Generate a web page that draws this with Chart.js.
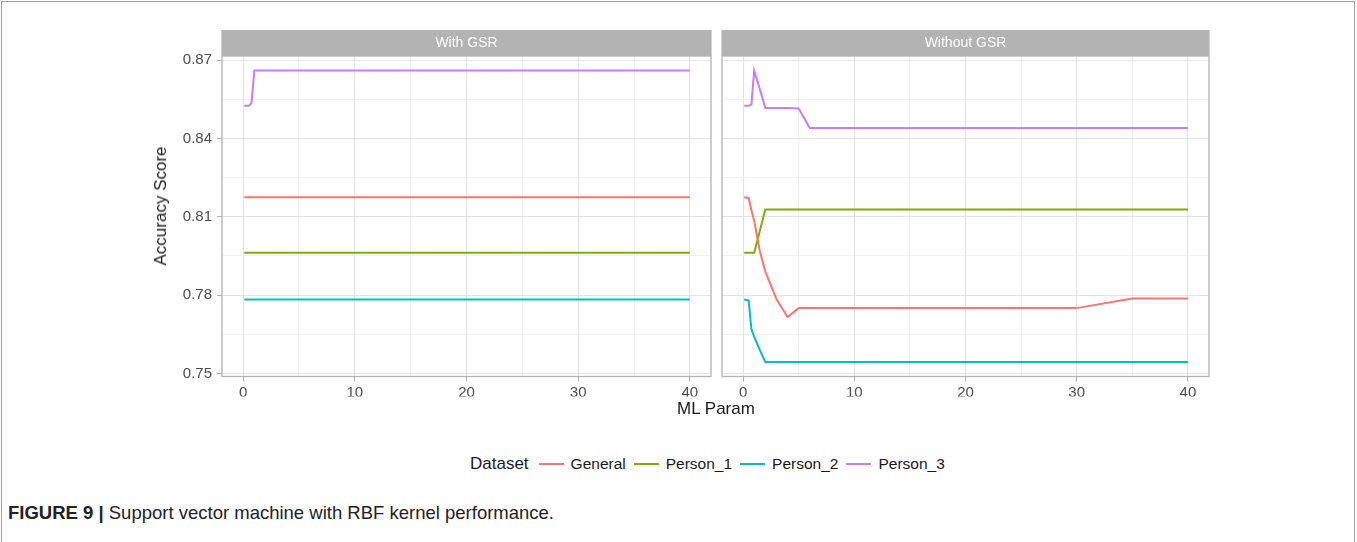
<!DOCTYPE html>
<html>
<head>
<meta charset="utf-8">
<script src="https://cdn.jsdelivr.net/npm/chart.js@4"></script>
<style>
  body { margin: 0; background: #fff; font-family: "Liberation Sans", Arial, sans-serif; }
  #page { position: relative; width: 1357px; height: 542px; overflow: hidden; background: #fff; }
  .frame { position: absolute; left: 1px; top: 1px; width: 1352px; height: 560px; border: 1px solid #a0a0a0; }
  #left { position: absolute; left: 150px; top: 30px; }
  #right { position: absolute; left: 718px; top: 30px; }
  .ytitle { position: absolute; left: 161px; top: 206px; transform: translate(-50%, -50%) rotate(-90deg);
            font-size: 17px; color: #1a1a1a; white-space: nowrap; }
  .xtitle { position: absolute; left: 716px; top: 409px; transform: translate(-50%, -50%);
            font-size: 17px; color: #1a1a1a; white-space: nowrap; }
  #legend { position: absolute; left: 470px; top: 454px; display: flex; align-items: center; color: #1a1a1a; }
  #legend .title { font-size: 17px; margin-right: 10px; }
  #legend .sw { width: 25px; height: 2px; margin-right: 7px; }
  #legend .lab { font-size: 15.5px; margin-right: 8px; }
  .caption { position: absolute; left: 8px; top: 502px; font-size: 18.5px; color: #222; white-space: nowrap; }
  .caption b { font-weight: bold; }
</style>
</head>
<body>
<div id="page">
  <div class="frame"></div>
  <canvas id="left" width="566" height="380"></canvas>
  <canvas id="right" width="500" height="380"></canvas>
  <div class="ytitle">Accuracy Score</div>
  <div class="xtitle">ML Param</div>
  <div id="legend"></div>
  <div class="caption"><b>FIGURE 9 |</b> Support vector machine with RBF kernel performance.</div>
</div>
<script>
// ML parameter values (x axis)
const params = [0.1, 0.5, 0.75, 1, 1.5, 2, 3, 4, 5, 6, 10, 20, 30, 35, 40]

const seriesNames = ["General", "Person_1", "Person_2", "Person_3"]
const seriesColors = ["#F8766D", "#7CAE00", "#00BFC4", "#C77CFF"]

// With GSR
const withGeneral = [0.8175, 0.8175, 0.8175, 0.8175, 0.8175, 0.8175, 0.8175, 0.8175, 0.8175, 0.8175, 0.8175, 0.8175, 0.8175, 0.8175, 0.8175]
const withPerson1 = [0.7962, 0.7962, 0.7962, 0.7962, 0.7962, 0.7962, 0.7962, 0.7962, 0.7962, 0.7962, 0.7962, 0.7962, 0.7962, 0.7962, 0.7962]
const withPerson2 = [0.7783, 0.7783, 0.7783, 0.7783, 0.7783, 0.7783, 0.7783, 0.7783, 0.7783, 0.7783, 0.7783, 0.7783, 0.7783, 0.7783, 0.7783]
const withPerson3 = [0.8525, 0.8525, 0.8535, 0.866, 0.866, 0.866, 0.866, 0.866, 0.866, 0.866, 0.866, 0.866, 0.866, 0.866, 0.866]

// Without GSR
const withoutGeneral = [0.8175, 0.8172, 0.8125, 0.8085, 0.797, 0.789, 0.7785, 0.7716, 0.775, 0.775, 0.775, 0.775, 0.775, 0.7787, 0.7787]
const withoutPerson1 = [0.7962, 0.7962, 0.7962, 0.7962, 0.8045, 0.8128, 0.8128, 0.8128, 0.8128, 0.8128, 0.8128, 0.8128, 0.8128, 0.8128, 0.8128]
const withoutPerson2 = [0.7783, 0.778, 0.767, 0.764, 0.759, 0.7544, 0.7544, 0.7544, 0.7544, 0.7544, 0.7544, 0.7544, 0.7544, 0.7544, 0.7544]
const withoutPerson3 = [0.8525, 0.8525, 0.853, 0.866, 0.859, 0.8517, 0.8517, 0.8517, 0.8515, 0.844, 0.844, 0.844, 0.844, 0.844, 0.844]

const yTicks = [0.75, 0.78, 0.81, 0.84, 0.87]
const xTicks = [0, 10, 20, 30, 40]

const GRID = "#e3e3e3"
const FRAME = "#b3b3b3"

function makeDatasets(lists) {
  return lists.map((vals, i) => ({
    label: seriesNames[i],
    data: params.map((p, j) => ({ x: p, y: vals[j] })),
    borderColor: seriesColors[i],
    backgroundColor: seriesColors[i],
    borderWidth: 2,
    pointRadius: 0,
    tension: 0,
    fill: false
  }))
}

const stripPlugin = {
  id: "strip",
  afterDraw(chart, args, opts) {
    const { ctx, chartArea: a } = chart
    ctx.save()
    ctx.strokeStyle = FRAME
    ctx.lineWidth = 1.3
    ctx.strokeRect(a.left, a.top, a.right - a.left, a.bottom - a.top)
    ctx.fillStyle = FRAME
    ctx.fillRect(a.left - 0.6, a.top - 26, a.right - a.left + 1.2, 26)
    ctx.fillStyle = "#ffffff"
    ctx.font = '14px "Liberation Sans", Arial, sans-serif'
    ctx.textAlign = "center"
    ctx.textBaseline = "middle"
    ctx.fillText(opts.title, (a.left + a.right) / 2, a.top - 13)
    ctx.restore()
  }
}

function isMajor(v, list) {
  return list.some(t => Math.abs(t - v) < 1e-6)
}

function makePanel(id, title, lists, showY, padLeft, padRight) {
  return new Chart(document.getElementById(id), {
    type: "line",
    data: { datasets: makeDatasets(lists) },
    plugins: [stripPlugin],
    options: {
      responsive: false,
      animation: false,
      layout: { padding: { top: 26, right: padRight, bottom: 13.5, left: padLeft } },
      plugins: {
        legend: { display: false },
        tooltip: { enabled: false },
        strip: { title: title }
      },
      scales: {
        x: {
          type: "linear",
          min: -1.895,
          max: 41.895,
          afterFit: s => { s.height = 20 },
          border: { display: false },
          grid: {
            color: ctx => isMajor(ctx.tick.value, xTicks) ? GRID : "#ececec",
            lineWidth: ctx => isMajor(ctx.tick.value, xTicks) ? 1.1 : 0.8,
            tickLength: 5,
            tickColor: ctx => isMajor(ctx.tick.value, xTicks) ? FRAME : "rgba(0,0,0,0)"
          },
          ticks: {
            stepSize: 5,
            includeBounds: false,
            maxRotation: 0,
            autoSkip: false,
            padding: 2,
            color: "#4d4d4d",
            font: { size: 15, family: '"Liberation Sans", Arial, sans-serif' },
            callback: v => isMajor(v, xTicks) ? String(Math.round(v)) : ""
          }
        },
        y: {
          min: 0.7488,
          max: 0.8716,
          afterFit: s => { s.width = showY ? 72 : 0 },
          border: { display: false },
          grid: {
            color: ctx => isMajor(ctx.tick.value, yTicks) ? GRID : "#ececec",
            lineWidth: ctx => isMajor(ctx.tick.value, yTicks) ? 1.1 : 0.8,
            drawTicks: showY,
            tickLength: 5,
            tickColor: ctx => isMajor(ctx.tick.value, yTicks) ? FRAME : "rgba(0,0,0,0)"
          },
          ticks: {
            display: showY,
            stepSize: 0.015,
            includeBounds: false,
            autoSkip: false,
            padding: 5,
            color: "#4d4d4d",
            font: { size: 15, family: '"Liberation Sans", Arial, sans-serif' },
            callback: v => isMajor(v, yTicks) ? v.toFixed(2) : ""
          }
        }
      }
    }
  })
}

makePanel("left", "With GSR", [withGeneral, withPerson1, withPerson2, withPerson3], true, 0, 5)
makePanel("right", "Without GSR", [withoutGeneral, withoutPerson1, withoutPerson2, withoutPerson3], false, 4, 9)

// legend
const legend = document.getElementById("legend")
legend.innerHTML = '<span class="title">Dataset</span>' +
  seriesNames.map((n, i) =>
    '<span class="sw" style="background:' + seriesColors[i] + '"></span><span class="lab">' + n + '</span>'
  ).join("")
</script>
</body>
</html>
